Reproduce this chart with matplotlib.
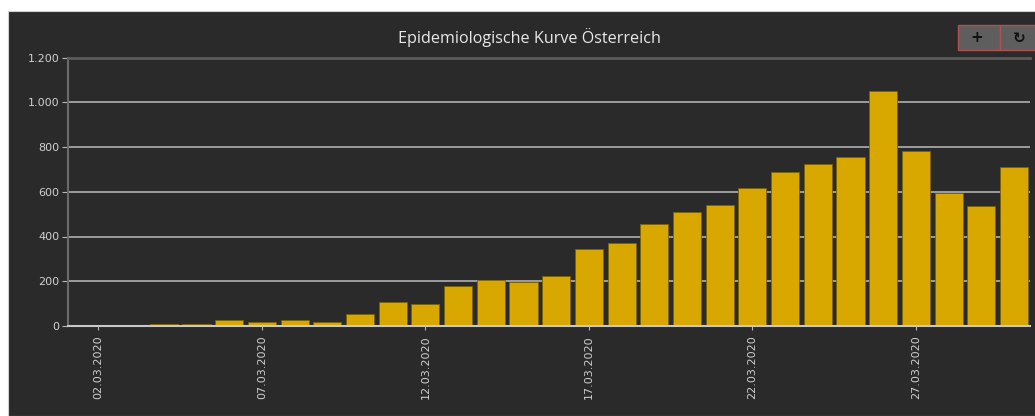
import matplotlib
matplotlib.use("Agg")
import matplotlib.pyplot as plt
from matplotlib.patches import Rectangle
from matplotlib.ticker import FuncFormatter

days = [f"{d:02d}.03.2020" for d in range(1, 31)]
cases = [2, 5, 6, 10, 8, 28, 19, 28, 19, 55,
         107, 98, 180, 207, 198, 223, 343, 373, 454, 510,
         542, 618, 690, 726, 754, 1052, 780, 596, 536, 712]
tick_days = ["02.03.2020", "07.03.2020", "12.03.2020",
             "17.03.2020", "22.03.2020", "27.03.2020"]
y_ticks = [0, 200, 400, 600, 800, 1000, 1200]
title = "Epidemiologische Kurve Österreich"

BG = "#2a2a2a"
W, H = 1035, 416

fig = plt.figure(figsize=(W / 100, H / 100), dpi=100)
fig.patch.set_facecolor("white")
# dark panel (white strip on top and left like the screenshot)
fig.patches.append(Rectangle((8 / W, 0), 1, 1 - 11 / H, transform=fig.transFigure,
                             facecolor=BG, edgecolor="#cfcfcf", lw=0.8, zorder=-10))

ax = fig.add_axes([68 / W, 1 - 326 / H, (1030 - 68) / W, (326 - 57.5) / H])
ax.set_facecolor(BG)

x = list(range(len(days)))
ax.bar(x, cases, width=0.86, color="#d8a700", edgecolor="#7a6200", linewidth=0.6, zorder=3)

ax.set_xlim(0.07, 29.49)
ax.set_ylim(0, 1200)
ax.set_yticks(y_ticks)
ax.yaxis.set_major_formatter(FuncFormatter(lambda v, p: f"{int(v):,}".replace(",", ".")))
ax.set_xticks([days.index(d) for d in tick_days])
ax.set_xticklabels(tick_days, rotation=90, fontsize=8, color="#d0d0d0")

ax.grid(axis="y", color="#bcbcbc", linewidth=1.1, zorder=1)
ax.tick_params(axis="y", length=4, color="#b8b8b8", labelcolor="#d0d0d0", labelsize=8, pad=2)
ax.tick_params(axis="x", length=3, color="#b8b8b8", pad=4)

ax.spines["right"].set_visible(False)
ax.spines["top"].set_color("#5c5c5c")
ax.spines["top"].set_linewidth(2)
ax.spines["left"].set_color("#6a6a6a")
ax.spines["left"].set_linewidth(1.5)
ax.spines["bottom"].set_color("#c8c8c8")
ax.spines["bottom"].set_linewidth(1.5)
ax.spines["bottom"].set_zorder(4)

fig.text(529 / W, 1 - 38 / H, title, ha="center", va="center", color="#e8e8e8", fontsize=11.6,
         family="Open Sans")

# zoom / reset buttons in the top right corner
for x0, x1, sym in [(958, 1000, "+"), (1000, 1040, "\u21bb")]:
    fig.patches.append(Rectangle((x0 / W, 1 - 50 / H), (x1 - x0) / W, 25 / H,
                                 transform=fig.transFigure, facecolor="#5e5e5e",
                                 edgecolor="#b05050", lw=1, zorder=5))
    fig.text((x0 + 19) / W, 1 - 38 / H, sym, ha="center", va="center", color="#111111",
             fontsize=11, fontweight="bold", family="DejaVu Sans", zorder=6)

fig.savefig("out.png", dpi=100, facecolor=fig.get_facecolor())
